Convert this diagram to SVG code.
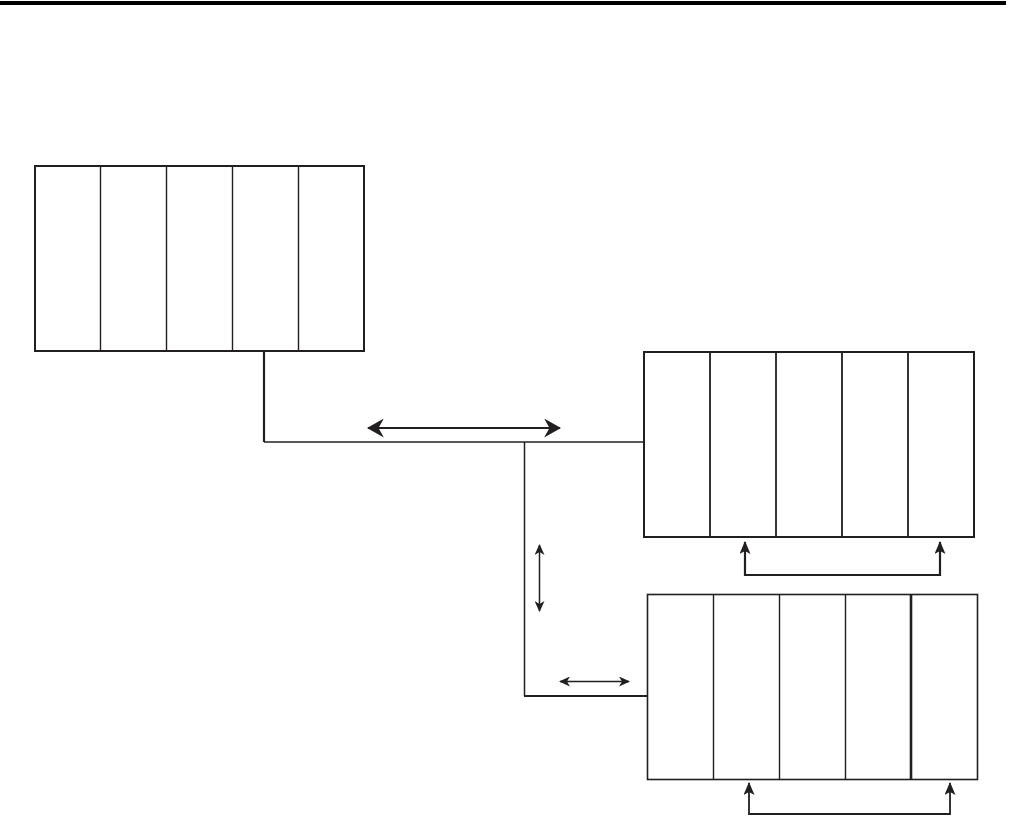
<svg xmlns="http://www.w3.org/2000/svg" width="1009" height="823" viewBox="0 0 1009 823">
<style>
.frame{fill:#fff;stroke:#231f20;stroke-width:2}
.div{stroke:#231f20;stroke-width:1.4;fill:none}
.wire{stroke:#231f20;fill:none;stroke-width:1.5}
.thick{stroke:#231f20;fill:none;stroke-width:2.2}
</style>
<defs>
<marker id="ahL" viewBox="0 0 16 18" refX="15" refY="9" markerWidth="17" markerHeight="19" markerUnits="userSpaceOnUse" orient="auto-start-reverse">
<path d="M0,0 L16,9 L0,18 L5,9 Z" fill="#231f20"/>
</marker>
<marker id="ahS" viewBox="0 0 11 10" refX="10" refY="5" markerWidth="11" markerHeight="10" markerUnits="userSpaceOnUse" orient="auto-start-reverse">
<path d="M0,0 L11,5 L0,10 L3,5 Z" fill="#231f20"/>
</marker>
<marker id="ahR" viewBox="0 0 13 11" refX="12" refY="5.5" markerWidth="13" markerHeight="11" markerUnits="userSpaceOnUse" orient="auto-start-reverse">
<path d="M0,0 L13,5.5 L0,11 L3,5.5 Z" fill="#231f20"/>
</marker>
</defs>
<rect x="0" y="1" width="1006" height="4" fill="#000"/>
<g id="rack1">
<rect class="frame" x="35" y="166" width="329" height="185"/>
<path class="div" d="M100.5,166V351M166.5,166V351M232.5,166V351M298.5,166V351"/>
</g>
<g id="rack2">
<rect class="frame" x="644" y="352" width="330" height="185"/>
<path class="div" style="stroke-width:1.8" d="M710,352V537M776,352V537M842,352V537M908,352V537"/>
</g>
<g id="rack3">
<rect class="frame" style="stroke-width:1.6" x="647.5" y="594.5" width="330" height="185"/>
<path class="div" d="M713.5,594.5V779.5M779.5,594.5V779.5M845.5,594.5V779.5"/>
<path class="div" style="stroke-width:2.6" d="M911,594.5V779.5"/>
</g>
<g id="connectors">
<path class="thick" d="M264,351V442"/>
<path class="wire" d="M264,442H643"/>
<path class="wire" d="M524.5,442V696"/>
<path class="thick" d="M524,696H647"/>
<line class="thick" x1="368" y1="428" x2="560" y2="428" marker-start="url(#ahL)" marker-end="url(#ahL)"/>
<line class="wire" x1="539.5" y1="545" x2="539.5" y2="611" marker-start="url(#ahS)" marker-end="url(#ahS)"/>
<line class="wire" x1="560" y1="681.5" x2="629" y2="681.5" marker-start="url(#ahS)" marker-end="url(#ahS)"/>
<path class="thick" d="M745,542V575H940V542" marker-start="url(#ahR)" marker-end="url(#ahR)"/>
<path class="thick" style="stroke-width:1.8" d="M749,783V814H950V783" marker-start="url(#ahR)" marker-end="url(#ahR)"/>
</g>
</svg>
